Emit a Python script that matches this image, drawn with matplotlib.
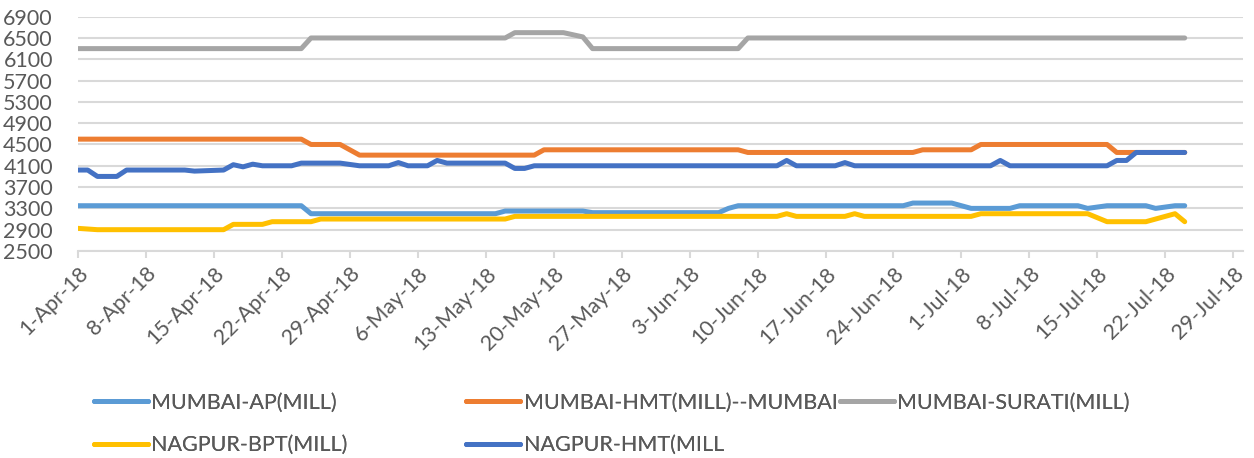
import matplotlib
matplotlib.use("Agg")
import matplotlib.pyplot as plt
import pandas as pd

# series: vertices of each price line (date, value)
ap_dates = ['2018-04-01', '2018-04-24', '2018-04-25', '2018-05-14', '2018-05-15', '2018-05-23',
            '2018-05-24', '2018-06-06', '2018-06-07', '2018-06-08', '2018-06-25', '2018-06-26',
            '2018-06-30', '2018-07-02', '2018-07-06', '2018-07-07', '2018-07-13', '2018-07-14',
            '2018-07-16', '2018-07-20', '2018-07-21', '2018-07-23', '2018-07-24']
ap_vals = [3350, 3350, 3200, 3200, 3250, 3250, 3220, 3220, 3300, 3350, 3350, 3400,
           3400, 3300, 3300, 3350, 3350, 3300, 3350, 3350, 3300, 3350, 3350]

hmt_mumbai_dates = ['2018-04-01', '2018-04-24', '2018-04-25', '2018-04-28', '2018-04-30', '2018-05-18',
                    '2018-05-19', '2018-06-08', '2018-06-09', '2018-06-26', '2018-06-27', '2018-07-02',
                    '2018-07-03', '2018-07-16', '2018-07-17', '2018-07-24']
hmt_mumbai_vals = [4600, 4600, 4500, 4500, 4300, 4300, 4400, 4400, 4350, 4350, 4400, 4400,
                   4500, 4500, 4350, 4350]

surati_dates = ['2018-04-01', '2018-04-24', '2018-04-25', '2018-05-15', '2018-05-16', '2018-05-21',
                '2018-05-23', '2018-05-24', '2018-06-08', '2018-06-09', '2018-07-24']
surati_vals = [6300, 6300, 6500, 6500, 6600, 6600, 6520, 6300, 6300, 6500, 6500]

bpt_dates = ['2018-04-01', '2018-04-03', '2018-04-16', '2018-04-17', '2018-04-20', '2018-04-21',
             '2018-04-25', '2018-04-26', '2018-05-15', '2018-05-16', '2018-06-12', '2018-06-13',
             '2018-06-14', '2018-06-19', '2018-06-20', '2018-06-21', '2018-07-02', '2018-07-03',
             '2018-07-14', '2018-07-16', '2018-07-20', '2018-07-23', '2018-07-24']
bpt_vals = [2925, 2900, 2900, 3000, 3000, 3050, 3050, 3100, 3100, 3150, 3150, 3200,
            3150, 3150, 3200, 3150, 3150, 3200, 3200, 3050, 3050, 3200, 3050]

hmt_nagpur_dates = ['2018-04-01', '2018-04-02', '2018-04-03', '2018-04-05', '2018-04-06', '2018-04-12',
                    '2018-04-13', '2018-04-16', '2018-04-17', '2018-04-18', '2018-04-19', '2018-04-20',
                    '2018-04-23', '2018-04-24', '2018-04-28', '2018-04-30', '2018-05-03', '2018-05-04',
                    '2018-05-05', '2018-05-07', '2018-05-08', '2018-05-09', '2018-05-15', '2018-05-16',
                    '2018-05-17', '2018-05-18', '2018-06-12', '2018-06-13', '2018-06-14', '2018-06-18',
                    '2018-06-19', '2018-06-20', '2018-07-04', '2018-07-05', '2018-07-06', '2018-07-16',
                    '2018-07-17', '2018-07-18', '2018-07-19', '2018-07-24']
hmt_nagpur_vals = [4020, 4020, 3900, 3900, 4020, 4020, 4000, 4020, 4120, 4080, 4130, 4100,
                   4100, 4150, 4150, 4100, 4100, 4160, 4100, 4100, 4200, 4150, 4150, 4050,
                   4050, 4100, 4100, 4200, 4100, 4100, 4160, 4100, 4100, 4200, 4100, 4100,
                   4200, 4200, 4350, 4350]

series_names = ['MUMBAI-AP(MILL)', 'MUMBAI-HMT(MILL)--MUMBAI', 'MUMBAI-SURATI(MILL)',
                'NAGPUR-BPT(MILL)', 'NAGPUR-HMT(MILL']
colors = ['#5B9BD5', '#ED7D31', '#A5A5A5', '#FFC000', '#4472C4']

tick_dates = ['2018-04-01', '2018-04-08', '2018-04-15', '2018-04-22', '2018-04-29', '2018-05-06',
              '2018-05-13', '2018-05-20', '2018-05-27', '2018-06-03', '2018-06-10', '2018-06-17',
              '2018-06-24', '2018-07-01', '2018-07-08', '2018-07-15', '2018-07-22', '2018-07-29']
tick_labels = ['1-Apr-18', '8-Apr-18', '15-Apr-18', '22-Apr-18', '29-Apr-18', '6-May-18',
               '13-May-18', '20-May-18', '27-May-18', '3-Jun-18', '10-Jun-18', '17-Jun-18',
               '24-Jun-18', '1-Jul-18', '8-Jul-18', '15-Jul-18', '22-Jul-18', '29-Jul-18']
y_ticks = [2500, 2900, 3300, 3700, 4100, 4500, 4900, 5300, 5700, 6100, 6500, 6900]

plt.rcParams['font.family'] = ['Lato', 'DejaVu Sans']
text_col = '#595959'
grid_col = '#D9D9D9'
fs = 15.5

fig = plt.figure(figsize=(12.54, 4.58), dpi=100)
ax = fig.add_axes([0.0622, 0.452, 0.929, 0.5116])

all_data = [(ap_dates, ap_vals), (hmt_mumbai_dates, hmt_mumbai_vals), (surati_dates, surati_vals),
            (bpt_dates, bpt_vals), (hmt_nagpur_dates, hmt_nagpur_vals)]
lines = []
for (d, v), name, c in zip(all_data, series_names, colors):
    ln, = ax.plot(pd.to_datetime(d), v, color=c, lw=3.6, label=name,
                  solid_capstyle='round', solid_joinstyle='round', zorder=3)
    lines.append(ln)

ax.set_xlim(pd.Timestamp('2018-04-01'), pd.Timestamp('2018-07-30'))
ax.set_ylim(2500, 6900)
ax.set_yticks(y_ticks)
ax.set_xticks(pd.to_datetime(tick_dates))
ax.set_xticklabels(tick_labels, rotation=45, ha='right', rotation_mode='anchor')
ax.tick_params(axis='x', colors=grid_col, length=5, width=1.5, labelcolor=text_col,
               labelsize=fs, pad=4)
ax.tick_params(axis='y', length=0, labelcolor=text_col, labelsize=fs, pad=18)
ax.grid(axis='y', color=grid_col, lw=1.5, zorder=0)
for s in ['top', 'right', 'left']:
    ax.spines[s].set_visible(False)
ax.spines['bottom'].set_color(grid_col)
ax.spines['bottom'].set_linewidth(1.5)

# legend in three fixed columns, two rows
col_x = [0.075, 0.372, 0.670]
groups = [[0, 3], [1, 4], [2]]
for x0, g in zip(col_x, groups):
    leg = fig.legend([lines[i] for i in g], [series_names[i] for i in g],
                     loc='upper left', bbox_to_anchor=(x0, 0.143), frameon=False,
                     fontsize=fs, labelcolor=text_col, handlelength=2.5,
                     handletextpad=0.15, labelspacing=1.05, borderpad=0, borderaxespad=0)
    fig.add_artist(leg)

fig.savefig('out.png', dpi=100)
